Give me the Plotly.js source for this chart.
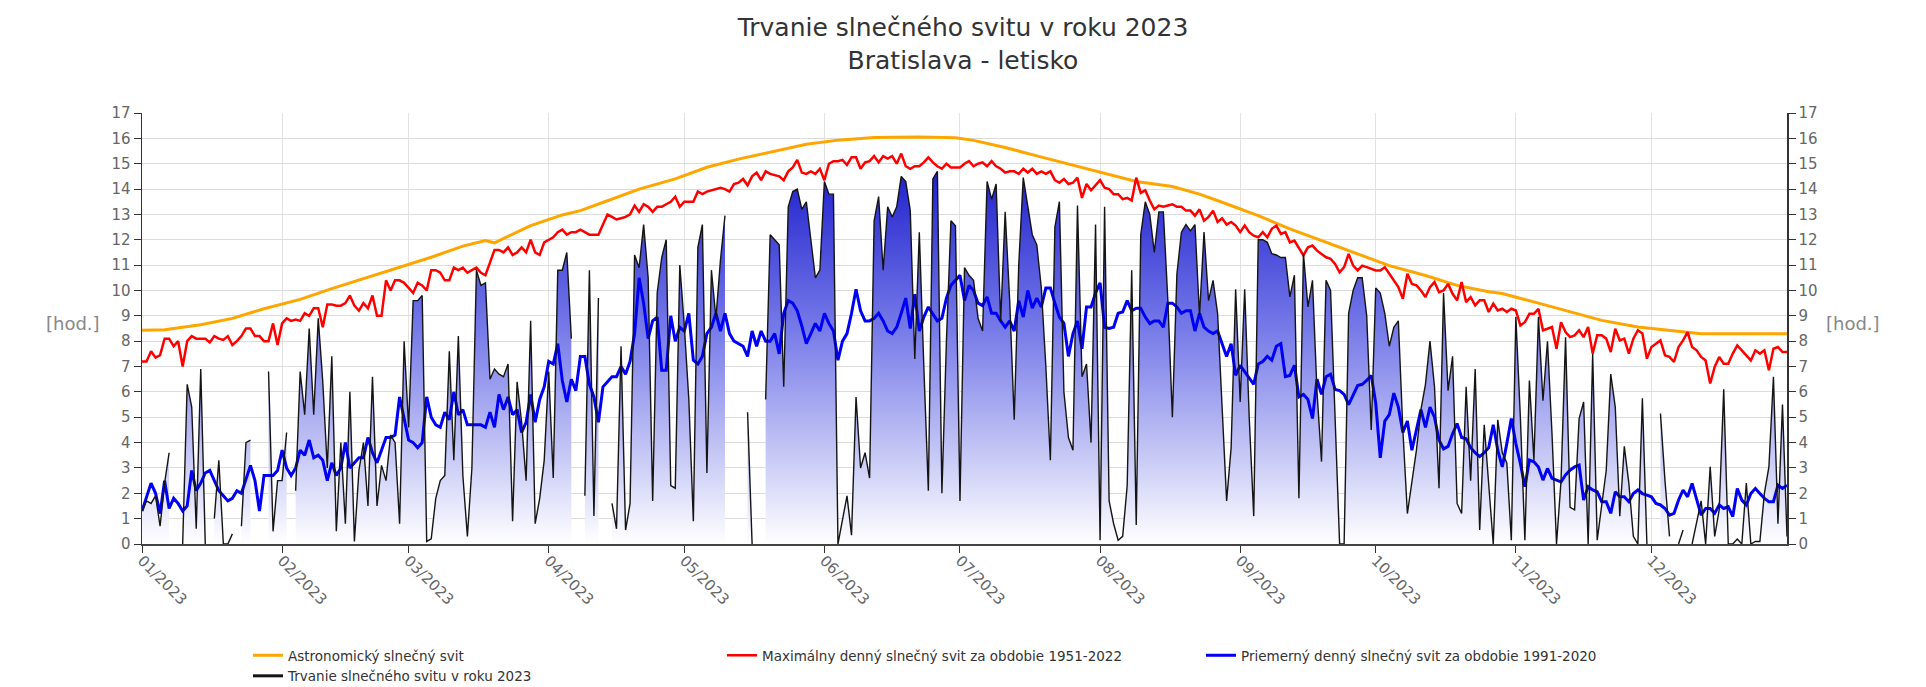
<!DOCTYPE html>
<html>
<head>
<meta charset="utf-8">
<script src="https://cdn.plot.ly/plotly-3.0.1.min.js"></script>
<style>html,body{margin:0;padding:0;background:#fff;}#chart{width:1926px;height:687px;}</style>
</head>
<body>
<div id="chart"></div>
<script>
// ---- DATA (hours per day, 2023-01-01 .. 2023-12-31) ----
const year = 2023;

// Astronomical sunshine duration, read at sample dates
const astroDates = ['2023-01-01','2023-01-06','2023-01-14','2023-01-21','2023-01-28','2023-02-05','2023-02-12','2023-02-19','2023-02-27',
  '2023-03-06','2023-03-13','2023-03-18','2023-03-20','2023-03-28','2023-04-04','2023-04-08','2023-04-14','2023-04-21','2023-04-29',
  '2023-05-06','2023-05-13','2023-05-21','2023-05-28','2023-06-04','2023-06-12','2023-06-22','2023-06-30','2023-07-04','2023-07-11',
  '2023-07-18','2023-07-25','2023-08-02','2023-08-09','2023-08-17','2023-08-23','2023-08-28','2023-09-05','2023-09-12','2023-09-19',
  '2023-09-27','2023-10-04','2023-10-12','2023-10-19','2023-10-26','2023-10-29','2023-11-06','2023-11-13','2023-11-20','2023-11-28',
  '2023-12-05','2023-12-12','2023-12-31'];
const astroVals = [8.43,8.45,8.65,8.9,9.28,9.65,10.07,10.46,10.89,
  11.31,11.75,11.97,11.88,12.56,12.98,13.15,13.54,14.0,14.4,
  14.86,15.18,15.5,15.77,15.93,16.03,16.05,16.02,15.92,15.64,
  15.31,14.99,14.6,14.3,14.1,13.8,13.48,12.95,12.43,11.97,
  11.44,10.98,10.59,10.2,9.95,9.88,9.5,9.15,8.82,8.56,
  8.43,8.29,8.29];

// Maximum daily sunshine 1951-2022 (daily)
const maxVals = [
  7.2,7.2,7.6,7.35,7.45,8.1,8.1,7.8,8.0,7.0,8.0,8.2,8.1,8.1,8.1,7.95,8.2,8.1,8.05,8.2,7.85,8.0,8.2,8.5,8.5,8.2,8.2,8.0,8.0,8.7,7.85,
  8.7,8.9,8.8,8.85,8.8,9.1,9.0,9.3,9.3,8.55,9.45,9.45,9.4,9.4,9.5,9.8,9.4,9.2,9.5,9.3,9.8,9.0,9.0,10.4,10.0,10.4,10.4,10.3,
  10.1,9.9,10.3,10.2,10.0,10.8,10.8,10.7,10.4,10.4,10.9,10.8,10.9,10.7,10.8,10.9,10.7,10.6,11.1,11.6,11.6,11.5,11.7,11.4,11.5,11.7,11.5,12.0,11.5,11.4,11.9,
  12.0,12.1,12.3,12.4,12.2,12.3,12.3,12.4,12.3,12.2,12.2,12.2,12.6,13.0,12.9,12.8,12.85,12.9,13.0,13.35,13.1,13.4,13.3,13.1,13.3,13.3,13.4,13.5,13.7,13.3,
  13.5,13.5,13.5,13.9,13.8,13.9,13.95,14.0,14.05,14.0,13.9,14.2,14.25,14.4,14.15,14.5,14.65,14.35,14.7,14.6,14.55,14.5,14.35,14.7,14.85,15.15,14.65,14.6,14.7,14.6,14.8,
  14.35,15.0,15.1,15.1,15.15,14.95,15.25,15.25,14.8,15.05,15.1,15.3,15.05,15.3,15.2,15.3,15.0,15.4,14.9,14.8,14.9,14.9,15.05,15.25,15.05,14.9,14.8,15.0,14.85,14.85,
  14.85,15.0,15.1,14.9,15.0,15.05,14.9,15.1,14.9,14.8,14.65,14.7,14.7,14.6,14.8,14.65,14.8,14.6,14.7,14.6,14.7,14.35,14.25,14.4,14.2,14.25,14.45,13.65,14.2,13.95,14.15,
  14.35,14.05,14.0,13.8,13.8,13.6,13.65,13.55,14.45,13.85,13.95,13.55,13.2,13.35,13.3,13.35,13.4,13.3,13.3,13.15,13.15,12.95,13.2,12.75,12.9,13.15,12.7,12.85,12.6,12.7,12.56,
  12.3,12.56,12.3,12.16,12.1,12.3,12.1,12.43,12.56,12.23,12.3,11.9,11.97,11.7,11.38,11.7,11.77,11.57,11.44,11.31,11.25,11.05,10.72,10.92,11.44,10.98,10.79,10.98,10.92,10.85,
  10.79,10.79,10.92,10.66,10.39,10.13,9.67,10.66,10.26,10.2,10.0,9.74,10.13,10.33,9.93,10.0,10.26,9.87,9.61,10.33,9.54,9.74,9.41,9.61,9.61,9.15,9.48,9.21,9.28,9.15,9.28,
  9.21,8.62,8.75,9.08,9.08,9.28,8.43,8.49,8.56,7.7,8.75,8.36,8.16,8.23,8.43,8.16,8.56,7.51,8.23,8.23,8.1,7.57,8.49,8.03,8.1,7.51,8.1,8.43,8.3,7.31,
  7.77,7.9,8.03,7.44,7.38,7.18,7.77,8.03,8.36,7.77,7.64,7.38,7.24,6.33,6.98,7.38,7.11,7.11,7.51,7.83,7.64,7.44,7.24,7.64,7.51,7.64,6.85,7.7,7.77,7.57,7.57
];

// Average daily sunshine 1991-2020 (daily)
const avgVals = [
  1.3,1.9,2.4,2.0,1.2,2.5,1.4,1.8,1.6,1.3,1.5,2.9,2.1,2.4,2.8,2.9,2.5,2.1,1.9,1.7,1.8,2.1,2.0,2.6,3.1,2.5,1.3,2.7,2.7,2.7,2.9,
  3.7,3.0,2.7,3.0,3.7,3.5,4.1,3.4,3.5,3.3,2.5,3.2,2.7,3.0,4.0,3.0,3.2,3.4,3.4,4.2,3.6,3.2,3.7,4.2,4.2,4.3,5.8,5.0,
  4.1,4.0,3.8,4.0,5.8,5.0,4.7,4.6,5.2,4.9,6.0,5.1,5.3,4.7,4.7,4.7,4.7,4.6,5.2,4.6,5.9,5.3,5.8,5.1,5.3,4.4,4.8,5.9,4.8,5.7,6.2,
  7.2,7.1,7.9,6.45,5.6,6.5,6.05,7.4,7.4,6.3,5.8,4.8,6.2,6.4,6.6,6.6,7.0,6.7,7.2,8.3,10.5,9.5,8.1,8.8,8.95,6.85,6.85,9.0,8.0,8.55,
  8.4,9.1,7.25,7.1,7.4,8.3,8.55,9.1,8.4,9.1,8.3,8.0,7.9,7.8,7.4,8.4,7.8,8.4,8.0,8.0,8.3,7.5,9.1,9.6,9.5,9.2,8.6,7.9,8.3,8.7,8.4,
  9.1,8.7,8.4,7.25,8.0,8.3,9.1,10.05,9.2,8.8,8.8,8.9,9.1,8.8,8.4,8.3,8.55,9.1,9.7,8.5,9.85,8.4,8.95,9.35,9.1,8.8,8.9,9.7,10.2,10.4,
  10.6,9.6,10.2,10.0,9.5,9.4,9.75,9.1,9.1,8.8,8.55,8.8,8.4,9.6,8.95,10.0,9.3,9.7,9.35,10.1,10.1,9.5,8.95,8.7,7.4,8.3,8.8,7.7,9.35,9.35,9.9,
  10.3,8.55,8.5,8.55,9.1,9.15,9.6,9.2,9.3,9.3,8.95,8.7,8.8,8.8,8.55,9.5,9.5,9.35,9.1,9.2,9.2,8.4,9.1,8.55,8.4,8.3,8.4,7.9,7.4,7.9,6.65,
  7.05,6.8,6.6,6.3,7.1,7.2,7.4,7.25,7.8,7.9,6.6,6.65,7.05,5.8,5.9,5.7,4.95,6.5,5.9,6.6,6.7,6.1,6.05,5.9,5.5,5.9,6.25,6.3,6.45,6.65,
  5.55,3.4,4.85,5.1,5.95,5.4,4.4,4.85,3.7,4.5,5.3,4.6,5.4,5.0,4.1,3.75,3.85,4.35,4.75,4.2,4.15,3.8,3.6,3.45,3.6,3.8,4.7,3.7,3.04,3.96,4.95,
  3.96,3.18,2.26,3.31,3.24,3.04,2.52,2.98,2.59,2.52,2.45,2.72,2.91,3.04,3.11,1.73,2.26,2.13,2.06,1.67,1.67,1.21,2.06,1.86,1.86,1.67,1.99,2.13,1.99,1.93,
  1.86,1.6,1.54,1.4,1.14,1.21,1.73,2.13,1.86,2.39,1.73,1.14,1.4,1.4,1.21,1.54,1.4,1.47,1.08,2.19,1.73,1.54,1.99,2.19,1.99,1.8,1.67,1.67,2.32,2.19,2.32
];

// Sunshine duration in 2023 (daily, null = no data)
const sun2023 = [
  1.3,1.7,1.6,1.9,0.7,2.4,3.6,null,null,0,6.3,5.4,0.6,6.9,0,null,1.0,3.3,0,0,0.4,null,0.7,4.0,4.1,null,null,null,6.8,0.5,2.5,
  2.5,4.4,null,2.1,6.8,5.1,8.5,5.1,8.9,6.4,3.0,7.4,0.5,4.0,0.8,6.0,0.1,2.9,4.0,1.5,6.6,1.5,3.1,2.5,4.3,4.0,0.8,8.0,
  4.6,9.6,9.6,9.8,0.1,0.2,1.8,2.5,2.7,7.6,3.3,8.2,2.7,0.3,3.0,10.8,10.2,10.3,6.5,6.9,6.7,6.6,7.1,0.9,6.4,4.8,2.5,8.8,0.8,1.8,3.3,
  6.8,2.6,10.8,10.8,11.5,8.1,null,null,1.9,10.8,1.1,9.7,null,null,1.6,0.6,7.8,0.55,1.6,11.4,10.9,12.6,10.5,1.7,9.9,11.3,12.0,2.3,2.2,11.0,
  8.6,5.7,0.9,11.7,12.6,2.8,10.8,8.9,11.2,12.95,null,null,null,null,5.2,0,null,null,5.7,12.2,12.0,11.8,6.2,13.3,13.9,14.0,13.2,13.5,12.0,10.5,10.8,
  14.3,13.8,13.8,0,1.0,1.9,0.35,5.8,3.0,3.6,2.6,12.75,13.7,10.8,13.3,12.9,13.3,14.5,14.3,13.15,7.3,12.3,7.0,2.1,14.4,14.7,2.0,8.0,12.75,12.55,
  1.7,10.9,10.6,10.4,8.9,8.4,14.3,13.6,14.2,8.8,13.1,9.6,4.9,11.0,14.45,13.3,12.2,11.8,10.1,7.0,3.3,12.5,13.5,6.0,4.2,3.7,13.35,6.6,7.1,4.0,12.6,
  0.15,13.3,1.7,0.8,0.15,0.3,2.3,10.8,0.75,12.2,13.5,13.0,11.5,13.1,13.1,9.6,5.0,10.65,12.3,12.6,12.35,12.6,9.0,12.3,9.6,10.4,9.1,5.5,1.7,3.8,10.05,
  5.6,10.05,5.0,1.1,12.0,12.0,11.9,11.45,11.4,11.3,11.3,9.75,10.6,1.8,11.45,9.35,10.4,6.0,3.25,10.4,10.0,5.0,0,0,9.1,10.0,10.5,10.5,9.0,4.5,
  10.1,9.9,9.1,7.8,8.55,8.8,4.5,1.2,2.4,3.7,5.3,6.3,8.0,6.2,2.2,9.9,6.05,7.4,1.6,1.2,6.2,2.5,6.9,0.55,4.7,2.4,0,4.9,3.6,3.2,0.15,
  8.95,5.0,0.15,6.45,3.3,8.95,5.65,8.0,4.35,0,2.5,8.15,1.45,1.35,4.95,5.6,0,7.5,0.15,1.6,2.9,6.7,5.4,1.1,3.85,2.4,0.3,0,5.75,0,
  null,null,5.15,2.5,0.3,null,0,0.55,null,0,0.9,1.7,0,3.05,0.3,1.35,6.1,0,0,0.2,0,2.4,0,0.1,0.1,2.0,3.05,6.6,0.8,5.5,0.3
];

const seriesNames = {
  astro: 'Astronomický slnečný svit',
  max: 'Maximálny denný slnečný svit za obdobie 1951-2022',
  avg: 'Priemerný denný slnečný svit za obdobie 1991-2020',
  y2023: 'Trvanie slnečného svitu v roku 2023'
};
const titleText = 'Trvanie slnečného svitu v roku 2023<br>Bratislava - letisko';
const unitLabel = '[hod.]';

// ---- daily date categories ----
const days = [];
for (let i = 0; i < 365; i++) {
  const d = new Date(Date.UTC(year, 0, 1 + i));
  days.push(d.toISOString().slice(0, 10));
}

// split 2023 series into contiguous runs (no data -> gap in the area)
const segments = [];
let cur = null;
sun2023.forEach((v, i) => {
  if (v === null) { cur = null; return; }
  if (!cur) { cur = {x: [], y: []}; segments.push(cur); }
  cur.x.push(days[i]); cur.y.push(v);
});

const FONT = 'DejaVu Sans, Verdana, sans-serif';
const grad = {type: 'vertical', start: 0, stop: 17,
  colorscale: [[0, 'rgb(255,255,255)'], [0.5, 'rgb(118,122,232)'], [1, 'rgb(0,0,195)']]};

const traces = [];
segments.forEach(s => traces.push({
  x: s.x, y: s.y, type: 'scatter', mode: 'lines', fill: 'tozeroy',
  line: {width: 0, color: 'rgba(0,0,0,0)'}, fillgradient: grad,
  showlegend: false, hoverinfo: 'skip'
}));
traces.push(
  {
    x: astroDates, y: astroVals, type: 'scatter', mode: 'lines', name: seriesNames.astro,
    line: {color: 'rgb(255,165,0)', width: 3}, legend: 'legend'
  },
  {
    x: days, y: maxVals, type: 'scatter', mode: 'lines', name: seriesNames.max,
    line: {color: 'rgb(255,0,0)', width: 2.5}, legend: 'legend2'
  },
  {
    x: days, y: avgVals, type: 'scatter', mode: 'lines', name: seriesNames.avg,
    line: {color: 'rgb(0,0,245)', width: 3}, legend: 'legend3'
  },
  {
    x: days, y: sun2023, type: 'scatter', mode: 'lines', name: seriesNames.y2023,
    connectgaps: false, line: {color: '#141414', width: 1.4}, showlegend: false
  },
  { // legend entry for the 2023 series (thick sample like the other entries)
    x: [days[0]], y: [null], type: 'scatter', mode: 'lines', name: seriesNames.y2023,
    line: {color: '#141414', width: 3}, legend: 'legend', hoverinfo: 'skip'
  },
  { x: [], y: [], yaxis: 'y2', type: 'scatter', showlegend: false }
);

const W = 1926, H = 687;
const mL = 142, mR = 139, mT = 113, mB = 143;
const pw = W - mL - mR, ph = H - mT - mB;
const px2x = px => (px - mL) / pw;
const py2y = py => (H - mB - py) / ph;

const legendCommon = {
  orientation: 'v', xanchor: 'left', yanchor: 'top', bgcolor: 'rgba(0,0,0,0)',
  font: {family: FONT, size: 13.5, color: '#333'}, itemwidth: 30, tracegroupgap: 0
};

const yCommon = {
  range: [0, 17], dtick: 1, tick0: 0, ticks: 'outside', ticklen: 7, tickcolor: '#333',
  showline: true, linecolor: '#333', linewidth: 1.5, zeroline: false,
  tickfont: {family: FONT, size: 15, color: '#666'}, fixedrange: true
};

const layout = {
  width: W, height: H,
  margin: {l: mL, r: mR, t: mT, b: mB, autoexpand: false},
  paper_bgcolor: '#fff', plot_bgcolor: '#fff',
  font: {family: FONT, color: '#333'},
  title: {text: titleText, x: 0.5, xanchor: 'center', yref: 'container', y: 1 - 36 / H, yanchor: 'top',
    font: {family: FONT, size: 25, color: '#333'}},
  xaxis: {
    type: 'date', range: ['2023-01-01', '2023-12-31'],
    tick0: '2023-01-01', dtick: 'M1', tickformat: '%m/%Y', tickangle: 45,
    ticks: 'outside', ticklen: 7, tickcolor: '#333', ticklabelstandoff: -7,
    showline: true, linecolor: '#444', linewidth: 2,
    showgrid: true, gridcolor: '#e3e3e3', gridwidth: 1,
    tickfont: {family: FONT, size: 15, color: '#666'}
  },
  yaxis: Object.assign({}, yCommon, {showgrid: true, gridcolor: '#dcdcdc', gridwidth: 1}),
  yaxis2: Object.assign({}, yCommon, {overlaying: 'y', side: 'right', showgrid: false}),
  showlegend: true,
  legend: Object.assign({}, legendCommon, {x: px2x(248), y: py2y(640)}),
  legend2: Object.assign({}, legendCommon, {x: px2x(722), y: py2y(640)}),
  legend3: Object.assign({}, legendCommon, {x: px2x(1201), y: py2y(640)}),
  annotations: [
    {text: unitLabel, xref: 'paper', yref: 'paper', x: px2x(73), y: py2y(323), xanchor: 'center', yanchor: 'middle',
      showarrow: false, font: {family: FONT, size: 18, color: '#888'}},
    {text: unitLabel, xref: 'paper', yref: 'paper', x: px2x(1853), y: py2y(323), xanchor: 'center', yanchor: 'middle',
      showarrow: false, font: {family: FONT, size: 18, color: '#888'}}
  ]
};

Plotly.newPlot('chart', traces, layout, {displayModeBar: false, staticPlot: true});
</script>
</body>
</html>
